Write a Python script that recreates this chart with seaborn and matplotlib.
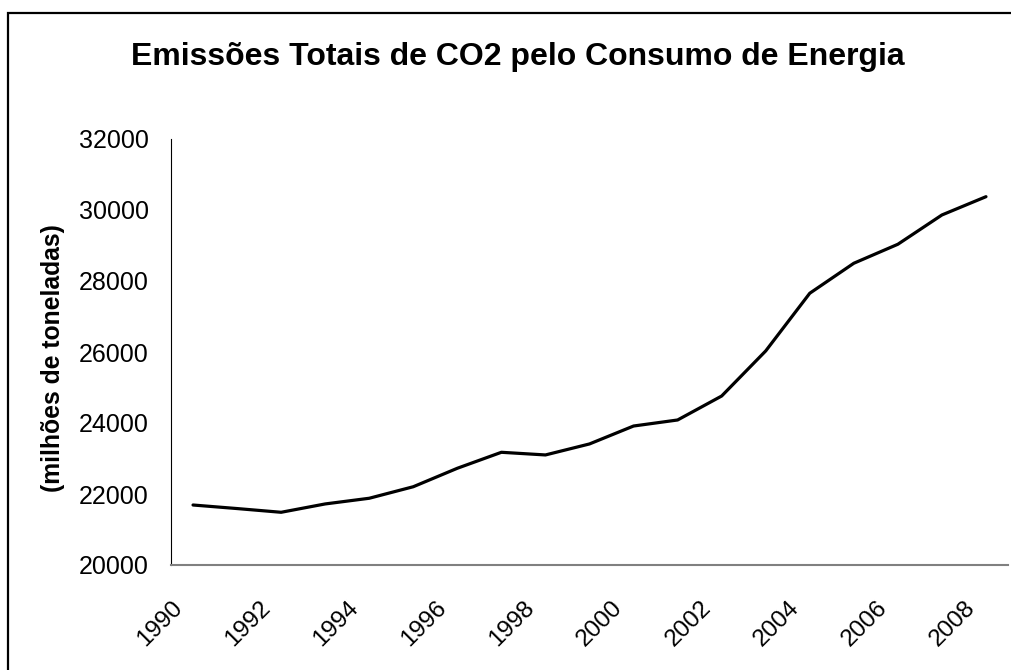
import numpy as np
import pandas as pd
import matplotlib
matplotlib.use("Agg")
import matplotlib.pyplot as plt
import matplotlib.patches as patches
from matplotlib.transforms import ScaledTranslation
import seaborn as sns

years = list(range(1990, 2009))
emissions = [21690, 21590, 21485, 21720, 21880, 22205, 22725, 23175, 23100, 23410,
             23915, 24085, 24760, 26030, 27655, 28500, 29035, 29860, 30375]
y_ticks = list(range(20000, 32001, 2000))
x_ticks = list(range(1990, 2009, 2))
title = "Emissões Totais de CO2 pelo Consumo de Energia"
y_label = "(milhões de toneladas)"

data = pd.DataFrame({"ano": years, "emissoes": emissions})

sns.set_theme(style="white")
plt.rcParams["font.family"] = ["Liberation Sans", "DejaVu Sans"]
plt.rcParams["text.color"] = "black"
plt.rcParams["xtick.color"] = "black"
plt.rcParams["ytick.color"] = "black"

fig = plt.figure(figsize=(10.12, 6.7), dpi=100)
ax = fig.add_axes([171 / 1012, 1 - 565 / 670, 837 / 1012, 426 / 670])

sns.lineplot(data=data, x="ano", y="emissoes", color="black", linewidth=2.3, ax=ax)

ax.set(xlim=(1989.5, 2008.5), ylim=(20000, 32000), xlabel="", ylabel="")
ax.set_yticks(y_ticks)
ax.set_yticklabels([str(t) for t in y_ticks], fontsize=18)
ax.set_xticks(x_ticks)
ax.set_xticklabels([str(t) for t in x_ticks], fontsize=17.5, rotation=45,
                   ha="right", va="top", rotation_mode="anchor")
ax.tick_params(axis="both", length=0)
ax.tick_params(axis="y", pad=16)
ax.tick_params(axis="x", pad=23)
shift = ScaledTranslation(-22 / 100, 0, fig.dpi_scale_trans)
for label in ax.get_xticklabels():
    label.set_transform(label.get_transform() + shift)

ax.spines["top"].set_visible(False)
ax.spines["right"].set_visible(False)
ax.spines["left"].set_color("black")
ax.spines["left"].set_linewidth(0.8)
ax.spines["bottom"].set_color("#808080")
ax.spines["bottom"].set_linewidth(1.5)

fig.text(518 / 1012, 1 - 57 / 670, title, ha="center", va="center",
         fontsize=23, fontweight="bold")
fig.text(53 / 1012, 1 - 358 / 670, y_label, ha="center", va="center",
         rotation=90, fontsize=17.8, fontweight="bold")

border = patches.Rectangle((8 / 1012, -0.1), 1.2, 1 - 13 / 670 + 0.1,
                           transform=fig.transFigure, fill=False,
                           edgecolor="black", linewidth=1.6)
fig.patches.append(border)

plt.savefig("out.png", dpi=100)
